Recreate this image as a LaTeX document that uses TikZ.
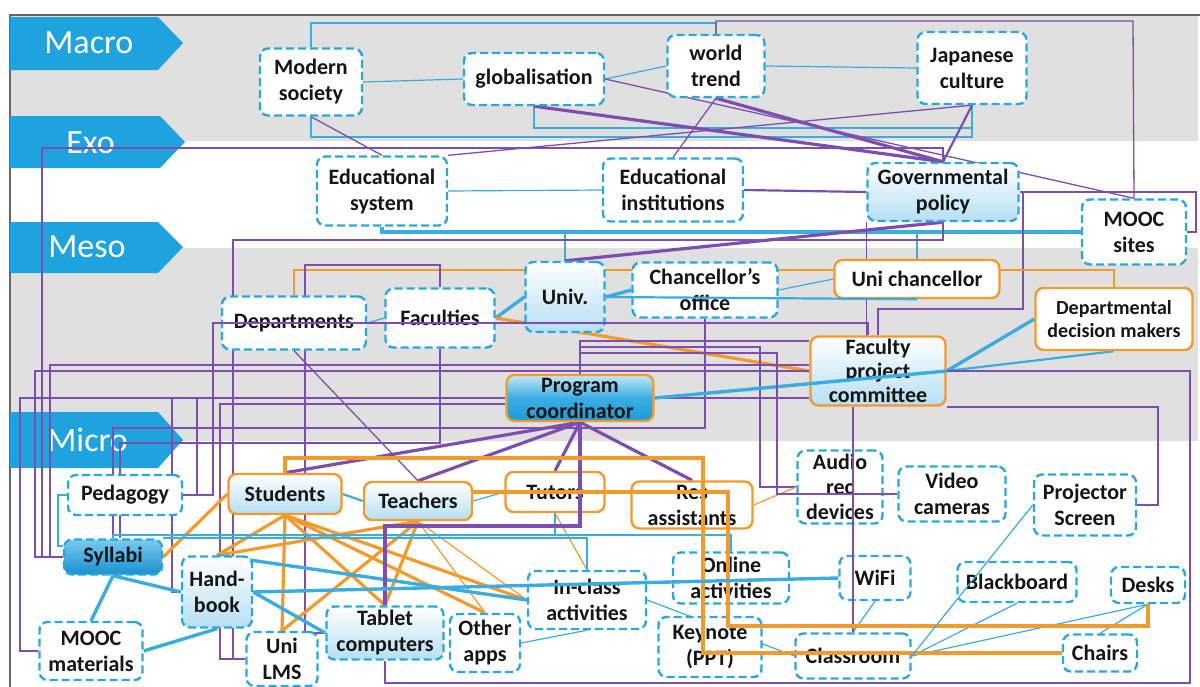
\documentclass[tikz,border=0pt]{standalone}
\usepackage{fontspec}
\setmainfont{Carlito}
\usetikzlibrary{calc}
\definecolor{nb}{HTML}{2AA8DE}
\definecolor{nor}{HTML}{F39A2C}
\definecolor{pur}{HTML}{7E4EAE}
\definecolor{lbl}{HTML}{3AADE0}
\definecolor{band}{HTML}{E0E0E0}
\definecolor{chev}{HTML}{1EA3DE}
\definecolor{gb}{HTML}{B5DFF4}
\definecolor{txt}{HTML}{151515}
\definecolor{pcT}{HTML}{C4E8F9}
\definecolor{pcM}{HTML}{3AAEE3}
\definecolor{pcB}{HTML}{1A9AD6}
\definecolor{syT}{HTML}{7ACBEF}
\definecolor{syB}{HTML}{1A90CF}
\pgfdeclarelayer{bottom}
\pgfdeclarelayer{background}
\pgfsetlayers{bottom,background,main}
\tikzset{
 box/.style={rounded corners=4pt, align=center, inner sep=0pt, text=txt, font=\bfseries\fontsize{11}{13}\selectfont, fill=white},
 bn/.style={box, draw=nb, line width=1.2pt, dash pattern=on 4pt off 2pt},
 on/.style={box, draw=nor, line width=1.2pt},
 grad/.style={top color=white, bottom color=gb},
 tb/.style={draw=lbl, line width=0.6pt},
 mb/.style={draw=lbl, line width=1.1pt},
 kb/.style={draw=lbl, line width=1.7pt},
 tp/.style={draw=pur, line width=0.65pt},
 mp/.style={draw=pur, line width=1.1pt},
 kp/.style={draw=pur, line width=1.6pt},
 to/.style={draw=nor, line width=0.6pt},
 ko/.style={draw=nor, line width=1.6pt},
 chevlbl/.style={text=white, font=\fontsize{17}{17}\selectfont, anchor=west, inner sep=0pt},
}
\begin{document}
\begin{tikzpicture}[x=0.5pt,y=-0.5pt]
\useasboundingbox (0,0) rectangle (1200,686);
\begin{pgfonlayer}{bottom}
\fill[white] (0,0) rectangle (1200,686);
\fill[band] (10,15) rectangle (1198,141);
\fill[band] (10,248) rectangle (1198,441);
\draw[black!60, line width=0.8pt] (10,690) -- (10,15) -- (1200,15);
\fill[chev] (10,17) -- (158,17) -- (183,43) -- (158,70) -- (10,70) -- cycle;
\fill[chev] (10,116) -- (160,116) -- (185,142) -- (160,168) -- (10,168) -- cycle;
\fill[chev] (10,222) -- (158,222) -- (183,247) -- (158,273) -- (10,273) -- cycle;
\fill[chev] (10,412) -- (158,412) -- (183,440) -- (158,468) -- (10,468) -- cycle;
\node[chevlbl] (lmacro) at (44,43) {Macro};
\node[chevlbl] (lexo) at (66,143) {Exo};
\node[chevlbl] (lmeso) at (48,247) {Meso};
\node[chevlbl] (lmicro) at (47,440) {Micro};
\end{pgfonlayer}

% ---------- nodes ----------
\node[bn,minimum width=51pt,minimum height=33.5pt] (ms) at (311,82) {Modern\\society};
\node[bn,minimum width=70pt,minimum height=26pt] (gl) at (534,79) {globalisation};
\node[bn,minimum width=48.5pt,minimum height=31pt] (wt) at (716,66) {world\\trend};
\node[bn,minimum width=54.5pt,minimum height=36pt] (jc) at (972,68) {Japanese\\culture};
\node[bn,minimum width=65pt,minimum height=34.5pt] (es) at (382,191) {Educational\\system};
\node[bn,minimum width=70pt,minimum height=31.5pt] (ei) at (673,190) {Educational\\institutions};
\node[bn,grad,minimum width=75.5pt,minimum height=29pt] (gp) at (943,192) {Governmental\\policy};
\node[bn,minimum width=52pt,minimum height=32.5pt] (ms2) at (1134,232) {MOOC\\sites};
\node[bn,grad,minimum width=39.5pt,minimum height=35pt] (un) at (565,297) {Univ.};
\node[bn,minimum width=72.5pt,minimum height=27.5pt] (co) at (705,290) {Chancellor’s\\office};
\node[on,minimum width=82.5pt,minimum height=19pt] (uc) at (917,279) {Uni chancellor};
\node[bn,minimum width=72pt,minimum height=26.5pt] (dp) at (294,323) {Departments};
\node[bn,minimum width=54.5pt,minimum height=29.5pt] (fa) at (440,318) {Faculties};
\node[on,minimum width=78.5pt,minimum height=31pt,font=\bfseries\fontsize{10}{11.5}\selectfont] (ddm) at (1114,319) {Departmental\\decision makers};
\node[on,grad,minimum width=67.5pt,minimum height=34.5pt,font=\bfseries\fontsize{11}{12}\selectfont] (fpc) at (878,371) {Faculty\\project\\committee};
\node[on,minimum width=73.5pt,minimum height=23pt,top color=pcT,bottom color=pcB,middle color=pcM] (pc) at (580,398) {Program\\coordinator};
\node[bn,minimum width=57pt,minimum height=20pt] (pe) at (125,495) {Pedagogy};
\node[on,grad,minimum width=56.5pt,minimum height=20pt] (st) at (285,494) {Students};
\node[on,grad,minimum width=54pt,minimum height=19pt] (te) at (418,501) {Teachers};
\node[on,minimum width=49.5pt,minimum height=20pt] (tu) at (555,492) {Tutors};
\node[on,minimum width=60.5pt,minimum height=23.5pt] (ra) at (692,505) {Res\\assistants};
\node[bn,minimum width=42.5pt,minimum height=36.5pt,font=\bfseries\fontsize{11}{12.5}\selectfont] (ar) at (840,487) {Audio\\rec\\devices};
\node[bn,minimum width=53.5pt,minimum height=27.5pt] (vc) at (952,494) {Video\\cameras};
\node[bn,minimum width=51pt,minimum height=30.5pt] (ps) at (1085,505) {Projector\\Screen};
\node[bn,top color=syT,bottom color=syB,minimum width=49pt,minimum height=17.5pt] (sy) at (113,557) {Syllabi};
\node[bn,grad,minimum width=35pt,minimum height=35.5pt] (hb) at (217,592) {Hand-\\book};
\node[bn,minimum width=59pt,minimum height=29pt] (ica) at (587,600) {In-class\\activities};
\node[bn,minimum width=58pt,minimum height=25.5pt] (oa) at (731,578) {Online\\activities};
\node[bn,minimum width=35.5pt,minimum height=22pt] (wf) at (875,578) {WiFi};
\node[bn,minimum width=59.5pt,minimum height=20pt] (bb) at (1017,582) {Blackboard};
\node[bn,minimum width=37pt,minimum height=18pt] (dk) at (1148,585) {Desks};
\node[bn,minimum width=51.5pt,minimum height=29pt] (mm) at (91,651) {MOOC\\materials};
\node[bn,minimum width=35.5pt,minimum height=27pt] (ul) at (282,659) {Uni\\LMS};
\node[bn,grad,minimum width=58.5pt,minimum height=26.5pt] (tc) at (385,633) {Tablet\\computers};
\node[bn,minimum width=35pt,minimum height=29pt] (oap) at (485,643) {Other\\apps};
\node[bn,minimum width=51.5pt,minimum height=30pt] (kn) at (710,647) {Keynote\\(PPT)};
\node[bn,minimum width=57.5pt,minimum height=22.5pt] (cl) at (853,656) {Classroom};
\node[bn,minimum width=37pt,minimum height=18.5pt] (ch) at (1100,653) {Chairs};

\coordinate (j1) at (172,398);
\coordinate (j2) at (197,398);

% ---------- connectors behind nodes ----------
\begin{pgfonlayer}{background}
% macro
\draw[tb] (ms.north) |- (wt.north |- 0,23) -- (wt.north);
\draw[tp] (wt.north) |- (1133,21) -- (ms2.north);
\draw[tb] (ms.east) -- (gl.west);
\draw[tb] (gl.east) -- (wt.west);
\draw[tb] (wt.east) -- (jc.west);
\draw[tb] (ms.south) |- (jc.south |- 0,137) -- (jc.south);
\draw[tb] (gl.south) |- (jc.south |- 0,128) -- (jc.south);
\draw[tp] (gl.east) -- (ms2.north);
\draw[kp] (gl.south) -- (gp.north);
\draw[kp] (wt.south) -- (gp.north);
\draw[mp] (jc.south) -- (gp.north);
\draw[tp] (jc.south) -- (es.north east);
\draw[tp] (ms.south) -- (es.north);
\draw[tp] (wt.south) -- (ei.north);
\draw[mp] (gp.north) -- (gp.north |- 0,148) -- (42,148) |- (sy.west);
% exo
\draw[tb] (es.east) -- (ei.west);
\draw[mp] (ei.east) -- (gp.west);
\draw[tp] (gp.east) -| (1196,232) -- (ms2.east);
\draw[kb] (es.south) |- (ms2.west);
\draw[mb] (un.north) -- (un.north |- ms2.west);
\draw[mb] (uc.north) -- (uc.north |- ms2.west);
\draw[kp] (gp.south) -- (un.north);
\draw[tp] (gp.south) -- (gp.south |- 0,240) -- (233,240) |- (ul.west);
\draw[tp] (gp.east) -| (1023,309) -| (fpc.north);
\draw[tp] (gp.south west) -- (gp.south west |- fpc.south);
% meso
\draw[to] (dp.north) |- (ddm.north |- 0,270) -- (ddm.north);
\draw[tp] (fa.north) |- (305,265) |- (tc.west);
\draw[tb] (dp.east) -- (fa.west);
\draw[kb] (fa.east) -- (un.west);
\draw[kb] (un.east) -- (co.west);
\draw[tb] (co.east) -- (uc.west);
\draw[ko] (fa.east) -- (fpc.west);
% program coordinator
\draw[kp] (pc.south) -- (st.north);
\draw[kp] (pc.south) -- (te.north);
\draw[kp] (pc.south) -- (tu.north);
\draw[kp] (pc.south) -- (ra.north);
\draw[mp] (pc.west) -- (20,398) |- (mm.west);
\draw[mp] (pc.east) -- (pc.east -| fpc.west);
\draw[kb] (fpc.east) -- (ddm.west);
\draw[mb] (fpc.east) -- (ddm.south);
\draw[tp] (pc.north) |- (fpc.west |- 0,341);
\draw[tp] (pc.north) |- (760,347) |- (ar.west);
% faculty project committee
\draw[mp] (fpc.east) -| (1190,683) -| (tc.south);
\draw[mp] (fpc.south east) -| (1158,505) -- (ps.east);
\draw[tp] ($(fpc.west)+(0,-6)$) -- (50,365) |- (sy.west);
\draw[tp] (fpc.west) -- (35,371) |- (sy.west);
% left cluster
\draw[tp] (co.south) |- (113,428) -- (sy.north);
\draw[tp] (fa.south) |- (120,443) -- ($(sy.north)+(7,0)$);
\draw[tp] (j1) |- (hb.west);
\draw[tp] (pe.east) -| (j2);
\draw[tp] (ul.west) -| (220,404) -- ($(pc.west)+(0,6)$);
\draw[tp] (dp.south) -- (te.north);
% micro orange
\draw[ko] (sy.east) -- (st.west);
\draw[ko] (st.south) -- (hb.north);
\draw[ko] (st.south) -- (ul.north);
\draw[ko] (st.south) -- (tc.north);
\draw[ko] (st.south) -- (oap.north);
\draw[ko] (st.south) -- (ica.west);
\draw[ko] (te.south) -- (hb.north);
\draw[ko] (te.south) -- (ul.north);
\draw[ko] (te.south) -- (tc.north);
\draw[to] (te.south) -- (oap.north);
\draw[to] (te.south) -- (ica.west);
\draw[to] (tu.south) -- (ica.north);
\draw[to] (ra.east) -- (ar.west);
% micro blue
\draw[mb] (st.east) -- (te.west);
\draw[tb] (te.east) -- (tu.west);
\draw[mb] (pe.west) -- (58,495) |- ($(sy.north west)+(0,8)$);
\draw[kb] (sy.south) -- (mm.north);
\draw[kb] (sy.south) -- (hb.west);
\draw[kb] (hb.south) -- (mm.east);
\draw[kb] (hb.east) -- (tc.west);
\draw[kb] (hb.north) -- (ica.west);
\draw[mb] (sy.north) |- (oa.north |- 0,535) -- (oa.north);
\draw[mb] (sy.north east) -| (ica.north);
\draw[tb] (tu.south) -- (tu.south |- 0,535);
\draw[tb] (ica.south) -- (oap.east);
\draw[tb] (ica.east) -- (cl.west);
\draw[tb] (wf.south) -- (cl.north);
\draw[tb] (cl.east) -- (bb.south);
\draw[tb] (cl.east) -- (dk.south);
\draw[tb] (dk.south) -- (ch.north);
\end{pgfonlayer}

% ---------- connectors crossing over nodes ----------
\draw[mb] (un.east) -- (uc.south);
\draw[tp] (pe.east) -| (213,323) -| ($(fpc.north)+(-10,0)$);
\draw[kb] (pc.east) -- (fpc.east);
\draw[tp] (pc.north) |- (777,353) |- (vc.west);
\draw[mp] (cl.north |- fpc.south) -- (cl.north);
\draw[kp] (pc.south) |- (tc.north |- 0,526) -- (tc.north);
\draw[ko] (te.east |- tu.west) -| (728,626) -| (dk.south);
\draw[ko] (st.north) |- (703,458) |- (ch.west);
\draw[kb] (hb.east) -- (wf.west);
\draw[tb] (cl.east) -- (ps.west);
\end{tikzpicture}
\end{document}
